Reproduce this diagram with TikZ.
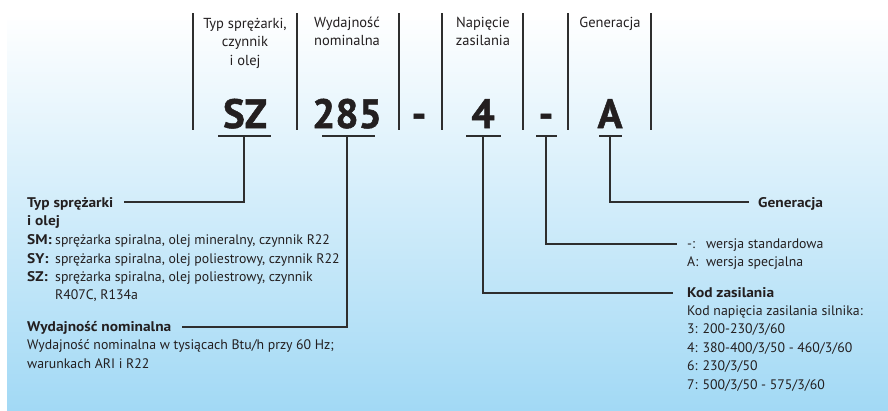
\documentclass[tikz,border=0pt]{standalone}
\usepackage{fontspec}
\setmainfont{PT Sans}[BoldFeatures={FakeStretch=1.1}]
\newfontfamily\bigfont{PT Sans}[BoldFeatures={FakeBold=1.2}]
\definecolor{ln}{HTML}{2E2E2E}
\definecolor{txt}{HTML}{231F20}
\definecolor{bgmid}{HTML}{E4F3FC}
\definecolor{bgbot}{HTML}{A2D9F5}
\begin{document}
\begin{tikzpicture}[x=1pt,y=-1pt,
  sep/.style={draw=ln,line width=1.1pt},
  bar/.style={draw=ln,line width=1.1pt},
  conn/.style={draw=ln,line width=1.1pt},
  hdr/.style={anchor=base,inner sep=0pt,text=txt,font=\fontsize{14.5}{17}\selectfont},
  big/.style={anchor=base,inner sep=0pt,text=txt,font=\fontsize{41}{46}\bigfont\bfseries},
  body/.style={anchor=base west,inner sep=0pt,text=txt,font=\fontsize{13.8}{16}\selectfont},
  bodyb/.style={anchor=base west,inner sep=0pt,text=txt,font=\fontsize{14}{16}\selectfont\bfseries}]
\useasboundingbox (0,0) rectangle (888,410);
\shade[top color=white,middle color=bgmid,bottom color=bgbot] (7,14) rectangle (888,410);
% separators
\foreach \x in {193,297,399,442,523,568,651} \draw[sep] (\x,13) -- (\x,130);
% headers
\node[hdr] (h1a) at (245,28) {Typ sprężarki,};
\node[hdr] (h1b) at (245,46.5) {czynnik};
\node[hdr] (h1c) at (245,65) {i olej};
\node[hdr] (h2a) at (347,27) {Wydajność};
\node[hdr] (h2b) at (347,45) {nominalna};
\node[hdr] (h3a) at (483,27) {Napięcie};
\node[hdr] (h3b) at (483,45) {zasilania};
\node[hdr] (h4a) at (610,27) {Generacja};
% code letters
\node[big] (c1) at (245,128) {SZ};
\node[big] (c2) at (347,128) {285};
\node[big] (c3) at (419,128) {-};
\node[big] (c4) at (483,128) {4};
\node[big] (c5) at (546,128) {-};
\node[big] (c6) at (610,128) {A};
% underline bars
\draw[bar] (218,136) -- (271,136);
\draw[bar] (322,136) -- (375,136);
\draw[bar] (466,136) -- (501,136);
\draw[bar] (536,136) -- (557,136);
\draw[bar] (599,136) -- (622,136);
\coordinate (b1) at (244,136);
\coordinate (b2) at (347,136);
\coordinate (b3) at (483,136);
\coordinate (b4) at (546,136);
\coordinate (b5) at (610,136);
% left texts
\node[bodyb] (t1) at (27,207) {Typ sprężarki};
\node[bodyb] (t1b) at (27,225) {i olej};
\node[bodyb] (sm) at (27,244) {SM:};
\node[body] (smt) at (55,244) {sprężarka spiralna, olej mineralny, czynnik R22};
\node[bodyb] (sy) at (27,263) {SY:};
\node[body] (syt) at (55,263) {sprężarka spiralna, olej poliestrowy, czynnik R22};
\node[bodyb] (sz) at (27,281) {SZ:};
\node[body] (szt) at (55,281) {sprężarka spiralna, olej poliestrowy, czynnik};
\node[body] (szt2) at (55,299) {R407C, R134a};
\node[bodyb] (t2) at (27,331) {Wydajność nominalna};
\node[body] (t2a) at (27,349) {Wydajność nominalna w tysiącach Btu/h przy 60 Hz;};
\node[body] (t2b) at (27,368) {warunkach ARI i R22};
% right texts
\node[bodyb] (t5) at (758,207) {Generacja};
\node[body] (t4) at (687,248) {-:};
\node[body] (t4a) at (706,248) {wersja standardowa};
\node[body] (t4b) at (687,266) {A:};
\node[body] (t4c) at (706,266) {wersja specjalna};
\node[bodyb] (t3) at (687,297) {Kod zasilania};
\node[body] (t3a) at (687,315) {Kod napięcia zasilania silnika:};
\node[body] (t3b) at (687,333) {3: 200-230/3/60};
\node[body] (t3c) at (687,352) {4: 380-400/3/50 - 460/3/60};
\node[body] (t3d) at (687,370) {6: 230/3/50};
\node[body] (t3e) at (687,389) {7: 500/3/50 - 575/3/60};
% connectors
\draw[conn] (b1) |- ([shift={(10,-5)}]t1.base east);
\draw[conn] (b2) |- ([shift={(10,-4)}]t2.base east);
\draw[conn] (b3) |- ([shift={(-14,-4)}]t3.base west);
\draw[conn] (b4) |- ([shift={(-10,-4)}]t4.base west);
\draw[conn] (b5) |- ([shift={(-9,-5)}]t5.base west);
\end{tikzpicture}
\end{document}
